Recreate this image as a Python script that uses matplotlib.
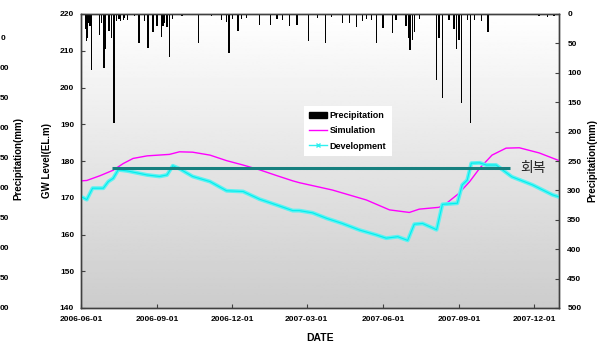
import numpy as np
import pandas as pd
import matplotlib
matplotlib.use("Agg")
import matplotlib.pyplot as plt
import matplotlib.dates as mdates
from matplotlib.lines import Line2D
from matplotlib.patches import Patch

plt.rcParams['font.family'] = ['Liberation Sans', 'DejaVu Sans']

# daily rainfall (mm), only rainy days
rain_dates = ['2006-06-07', '2006-06-08', '2006-06-09', '2006-06-10', '2006-06-12', '2006-06-14',
              '2006-06-23', '2006-06-26', '2006-06-29', '2006-06-30', '2006-07-01', '2006-07-05',
              '2006-07-08', '2006-07-10', '2006-07-11', '2006-07-14', '2006-07-17', '2006-07-19',
              '2006-07-22', '2006-07-24', '2006-07-27', '2006-08-05', '2006-08-10', '2006-08-17',
              '2006-08-21', '2006-08-27', '2006-09-01', '2006-09-06', '2006-09-08', '2006-09-10',
              '2006-09-13', '2006-09-16', '2006-09-20', '2006-10-01', '2006-10-21', '2006-11-06',
              '2006-11-18', '2006-11-24', '2006-11-27', '2006-12-01', '2006-12-08', '2006-12-12',
              '2006-12-18', '2007-01-03', '2007-01-16', '2007-01-24', '2007-01-31', '2007-02-08',
              '2007-02-17', '2007-03-03', '2007-03-14', '2007-03-24', '2007-03-31', '2007-04-13',
              '2007-04-22', '2007-04-30', '2007-05-07', '2007-05-12', '2007-05-18', '2007-05-24',
              '2007-06-01', '2007-06-13', '2007-06-17', '2007-06-29', '2007-07-02', '2007-07-04',
              '2007-07-07', '2007-07-09', '2007-07-15', '2007-08-05', '2007-08-08', '2007-08-12',
              '2007-08-20', '2007-08-26', '2007-08-29', '2007-09-01', '2007-09-04', '2007-09-11',
              '2007-09-15', '2007-09-20', '2007-09-28', '2007-10-06', '2007-12-07', '2007-12-17',
              '2007-12-25']
rain_mm = [25, 46, 40, 15, 20, 95,
           36, 15, 92, 60, 25, 29,
           40, 30, 186, 12, 8, 12,
           10, 6, 10, 4, 50, 12,
           58, 31, 20, 39, 20, 15,
           22, 73, 8, 3, 50, 4,
           10, 14, 67, 8, 29, 8,
           6, 19, 19, 8, 10, 20,
           19, 46, 7, 50, 5, 16,
           15, 22, 12, 8, 10, 50,
           24, 33, 10, 20, 40, 61,
           45, 30, 8, 112, 40, 143,
           10, 25, 60, 45, 152, 10,
           186, 10, 12, 30, 4, 5,
           4]

# simulated groundwater level (EL.m)
sim_dates = ['2006-06-01', '2006-06-08', '2006-06-24', '2006-07-10', '2006-07-22', '2006-08-03',
             '2006-08-20', '2006-09-16', '2006-09-28', '2006-10-14', '2006-11-04', '2006-11-24',
             '2006-12-14', '2007-01-03', '2007-01-24', '2007-02-12', '2007-02-20', '2007-04-01',
             '2007-05-12', '2007-06-09', '2007-07-03', '2007-07-15', '2007-08-08', '2007-08-17',
             '2007-09-01', '2007-09-14', '2007-09-26', '2007-10-11', '2007-10-28', '2007-11-13',
             '2007-12-07', '2007-12-30']
sim_level = [174.6, 174.7, 176.0, 177.5, 179.3, 180.7,
             181.4, 181.8, 182.5, 182.4, 181.6, 180.1,
             178.9, 177.6, 176.0, 174.6, 174.1, 172.1,
             169.4, 166.7, 166.0, 166.9, 167.4, 168.5,
             171.2, 174.4, 178.0, 181.6, 183.5, 183.6,
             182.2, 180.2]

# level under development (pumping)
dev_dates = ['2006-06-01', '2006-06-08', '2006-06-15', '2006-06-28', '2006-07-04', '2006-07-10',
             '2006-07-16', '2006-07-27', '2006-08-20', '2006-09-04', '2006-09-13', '2006-09-20',
             '2006-09-28', '2006-10-14', '2006-11-04', '2006-11-24', '2006-12-14', '2007-01-03',
             '2007-01-24', '2007-02-12', '2007-02-20', '2007-03-08', '2007-03-25', '2007-04-13',
             '2007-05-04', '2007-05-24', '2007-06-05', '2007-06-19', '2007-07-01', '2007-07-09',
             '2007-07-19', '2007-08-05', '2007-08-12', '2007-08-30', '2007-09-05', '2007-09-11',
             '2007-09-16', '2007-09-26', '2007-10-04', '2007-10-16', '2007-11-04', '2007-11-29',
             '2007-12-23', '2007-12-30']
dev_level = [170.3, 169.5, 172.6, 172.6, 174.4, 175.3,
             177.6, 177.3, 176.2, 175.8, 176.2, 178.7,
             177.9, 175.8, 174.4, 171.9, 171.7, 169.6,
             168.0, 166.5, 166.5, 165.9, 164.4, 163.0,
             161.2, 159.9, 159.0, 159.4, 158.4, 162.8,
             163.0, 161.3, 168.2, 168.5, 173.5, 174.8,
             179.4, 179.5, 178.9, 178.9, 175.7, 173.5,
             170.8, 170.3]

recovery_level = 178
recovery_start = '2006-07-08'
recovery_end = '2007-11-02'

date_ticks = ['2006-06-01', '2006-09-01', '2006-12-01', '2007-03-01',
              '2007-06-01', '2007-09-01', '2007-12-01']

rd = pd.to_datetime(rain_dates)
sd = pd.to_datetime(sim_dates)
dd = pd.to_datetime(dev_dates)

fig = plt.figure(figsize=(6.01, 3.42), dpi=100)
ax = fig.add_axes([81/601, 1-308/342, 478/601, 294/342])

# grey gradient background
grad = np.linspace(0.8, 1.0, 256).reshape(-1, 1)
ax.imshow(grad, extent=[0, 1, 0, 1], transform=ax.transAxes, aspect='auto',
          cmap='gray', vmin=0, vmax=1, origin='lower', zorder=0)

ax.plot(sd, sim_level, color='#ff00ff', lw=1.0, zorder=3)
ax.plot(dd, dev_level, color='#5ef2f2', lw=2.8, zorder=4)
ax.plot(dd, dev_level, color='#00eeee', lw=0.8, zorder=4)
ax.hlines(recovery_level, pd.Timestamp(recovery_start), pd.Timestamp(recovery_end),
          color='#17807f', lw=2.2, zorder=5)
ax.text(pd.Timestamp('2007-11-14'), recovery_level, '회복', fontsize=10,
        family=['Noto Sans CJK KR', 'DejaVu Sans'], va='center', ha='left', color='#222222')

ax.set_xlim(pd.Timestamp('2006-06-01'), pd.Timestamp('2007-12-31'))
ax.set_ylim(140, 220)
ax.set_yticks(np.arange(140, 221, 10))
ax.set_xticks(pd.to_datetime(date_ticks))
ax.xaxis.set_major_formatter(mdates.DateFormatter('%Y-%m-%d'))
ax.tick_params(direction='in', length=3, labelsize=6, width=0.8, color='#404040')
ax.tick_params(axis='x', pad=6)
ax.tick_params(axis='y', pad=5)
for lab in ax.get_xticklabels() + ax.get_yticklabels():
    lab.set_fontweight('bold')
ax.set_xlabel('DATE', fontsize=7.5, fontweight='bold')
ax.xaxis.set_label_coords(0.5, -0.085)
ax.set_ylabel('GW Level(EL.m)', fontsize=7, fontweight='bold')
ax.yaxis.set_label_coords(-0.06, 0.5)

ax2 = ax.twinx()
ax2.bar(rd, rain_mm, width=1.6, color='black', zorder=2)
ax2.set_ylim(500, 0)
ax2.set_yticks(np.arange(0, 501, 50))
ax2.tick_params(direction='in', length=3, labelsize=6, width=0.8, pad=6, color='#404040')
for lab in ax2.get_yticklabels():
    lab.set_fontweight('bold')
ax2.set_ylabel('Precipitation(mm)', fontsize=7, fontweight='bold')
ax2.yaxis.set_label_coords(1.06, 0.5)
for a in (ax, ax2):
    for sp in a.spines.values():
        sp.set_linewidth(1.0)
        sp.set_color('#404040')

handles = [Patch(facecolor='black', edgecolor='black'),
           Line2D([], [], color='#ff00ff', lw=1.0),
           Line2D([], [], color='#2ff0f0', lw=1.0, marker='x', markersize=3)]
leg = ax2.legend(handles, ['Precipitation', 'Simulation', 'Development'],
                 loc='upper left', bbox_to_anchor=(299/601, 1-101/342),
                 bbox_transform=fig.transFigure, frameon=True, fancybox=False,
                 framealpha=1, edgecolor='none', prop={'size': 6.5, 'weight': 'bold'},
                 handlelength=2.0, handletextpad=0.3, borderpad=0.6, labelspacing=0.7)

# what shows of the neighbouring chart's axis at the left edge
ghost = ['0', '00', '50', '00', '50', '00', '50', '00', '50', '00']
for i, g in enumerate(ghost):
    fig.text((5 if i == 0 else 9)/601, 1-(38+30.1*i)/342, g, ha='right', va='center',
             fontsize=6, fontweight='bold')
fig.text(18/601, 1-158/342, 'Precipitation(mm)', rotation=90, ha='center', va='center',
         fontsize=7, fontweight='bold')

fig.savefig('out.png', dpi=100)
